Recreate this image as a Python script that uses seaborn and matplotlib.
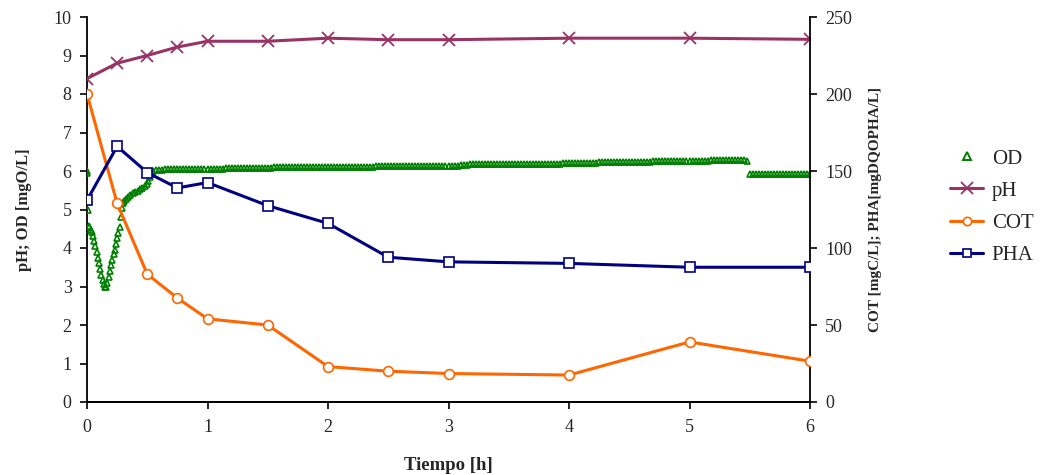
import numpy as np
import pandas as pd
import matplotlib
matplotlib.use("Agg")
import matplotlib.pyplot as plt
import seaborn as sns
from matplotlib.lines import Line2D

# ---------------- data ----------------
time_main = [0, 0.25, 0.5, 0.75, 1, 1.5, 2, 2.5, 3, 4, 5, 6]
ph = [8.40, 8.80, 9.00, 9.22, 9.37, 9.37, 9.45, 9.41, 9.41, 9.45, 9.45, 9.42]
cot = [200, 129, 83, 67.5, 54, 50, 23, 20, 18.5, 17.5, 39, 26.5]
pha = [131, 166, 149, 139, 142.5, 127.5, 116, 94, 91, 90, 87.5, 87.5]

# OD: early dense readings (time, value)
od_early_t = [0.000, 0.003, 0.010, 0.015, 0.020, 0.030, 0.040, 0.050, 0.060, 0.070,
              0.080, 0.090, 0.100, 0.110, 0.120, 0.130, 0.140, 0.150, 0.160, 0.170,
              0.180, 0.190, 0.200, 0.210, 0.220, 0.230, 0.240, 0.250, 0.260, 0.270,
              0.280, 0.290, 0.300, 0.310, 0.320, 0.340, 0.360, 0.380, 0.400, 0.420,
              0.440, 0.460, 0.480, 0.500, 0.510, 0.520, 0.530, 0.540, 0.550]
od_early = [6.00, 5.95, 5.00, 4.57, 4.55, 4.48, 4.42, 4.30, 4.18, 4.05,
            3.90, 3.75, 3.60, 3.45, 3.30, 3.17, 3.07, 3.00, 3.00, 3.10,
            3.25, 3.40, 3.55, 3.70, 3.85, 3.95, 4.10, 4.25, 4.40, 4.55,
            4.80, 5.05, 5.18, 5.23, 5.28, 5.33, 5.38, 5.42, 5.45, 5.49,
            5.53, 5.57, 5.62, 5.67, 5.74, 5.84, 5.92, 5.98, 6.01]

# OD: logger readings every 0.025 h from 0.575 h
od_late_start = 0.575
od_late_step = 0.025
od_late = [
    # 0.575 - 1.175
    6.03, 6.03, 6.03, 6.04, 6.04, 6.04, 6.04, 6.04, 6.05, 6.05,
    6.05, 6.05, 6.05, 6.05, 6.05, 6.06, 6.06, 6.06, 6.06, 6.06,
    6.06, 6.06, 6.06, 6.07, 6.07,
    # 1.2 - 1.275
    6.07, 6.08, 6.08, 6.09,
    # 1.3 - 2.375
    6.09, 6.09, 6.09, 6.09, 6.09, 6.09, 6.09, 6.09, 6.09, 6.09,
    6.10, 6.10, 6.10, 6.10, 6.10, 6.10, 6.10, 6.10, 6.10, 6.10,
    6.10, 6.10, 6.10, 6.10, 6.10, 6.10, 6.10, 6.10, 6.10, 6.10,
    6.11, 6.11, 6.11, 6.11, 6.11, 6.11, 6.11, 6.11, 6.11, 6.11,
    6.11, 6.11, 6.11, 6.11,
    # 2.4 - 3.075
    6.12, 6.12, 6.12, 6.12, 6.12, 6.12, 6.12, 6.13, 6.13, 6.13,
    6.13, 6.13, 6.13, 6.13, 6.13, 6.13, 6.13, 6.13, 6.14, 6.14,
    6.14, 6.14, 6.14, 6.14, 6.14, 6.14, 6.14, 6.14,
    # 3.1 - 3.175
    6.15, 6.16, 6.16, 6.17,
    # 3.2 - 3.875
    6.17, 6.17, 6.17, 6.17, 6.17, 6.17, 6.17, 6.17, 6.17, 6.17,
    6.17, 6.17, 6.18, 6.18, 6.18, 6.18, 6.18, 6.18, 6.18, 6.18,
    6.18, 6.18, 6.18, 6.18, 6.18, 6.18, 6.18, 6.18,
    # 3.9 - 4.025
    6.19, 6.19, 6.20, 6.20, 6.21, 6.21,
    # 4.05 - 4.675
    6.22, 6.22, 6.22, 6.22, 6.22, 6.22, 6.22, 6.22, 6.23, 6.23,
    6.23, 6.23, 6.23, 6.23, 6.23, 6.23, 6.23, 6.23, 6.24, 6.24,
    6.24, 6.24, 6.24, 6.24, 6.24, 6.24,
    # 4.7 - 4.825
    6.25, 6.25, 6.26, 6.26, 6.27, 6.27,
    # 4.85 - 5.475
    6.27, 6.27, 6.27, 6.27, 6.27, 6.27, 6.27, 6.27, 6.27, 6.27,
    6.27, 6.27, 6.27, 6.28, 6.28, 6.28, 6.28, 6.28, 6.28, 6.28,
    6.28, 6.28, 6.28, 6.28, 6.28, 6.26,
    # 5.5 - 6.0
    5.91, 5.91, 5.91, 5.91, 5.91, 5.91, 5.91, 5.91, 5.91, 5.91,
    5.91, 5.91, 5.91, 5.91, 5.91, 5.91, 5.91, 5.91, 5.91, 5.91,
    5.91,
]

x_ticks = [0, 1, 2, 3, 4, 5, 6]
left_ticks = list(range(0, 11))
right_ticks = [0, 50, 100, 150, 200, 250]

# ---------------- build ----------------
od_late_t = od_late_start + od_late_step * np.arange(len(od_late))
od_t = np.concatenate([od_early_t, od_late_t])
od_v = np.concatenate([od_early, od_late])
df_od = pd.DataFrame({"t": od_t, "v": od_v})
df_main = pd.DataFrame({"t": time_main, "ph": ph, "cot": cot, "pha": pha})

sns.set_style("ticks")
plt.rcParams["font.family"] = ["Liberation Serif", "DejaVu Serif"]

c_od = "#008000"
c_ph = "#993366"
c_cot = "#FF6600"
c_pha = "#000080"
txt = "#262626"

fig = plt.figure(figsize=(10.43, 4.75), dpi=100)
ax = fig.add_axes([87 / 1043, 1 - 402 / 475, (810 - 87) / 1043, (402 - 17) / 475])
ax2 = ax.twinx()

sns.lineplot(data=df_od, x="t", y="v", ax=ax, estimator=None, sort=False,
             linestyle="none", marker="^", markersize=5,
             markerfacecolor="none", markeredgecolor=c_od, markeredgewidth=1.2,
             color=c_od, zorder=3)
sns.lineplot(data=df_main, x="t", y="ph", ax=ax, estimator=None, sort=False,
             color=c_ph, linewidth=2.2, marker="x", markersize=8,
             markeredgewidth=1.3, markeredgecolor=c_ph, zorder=4)

sns.lineplot(data=df_main, x="t", y="cot", ax=ax2, estimator=None, sort=False,
             color=c_cot, linewidth=2.2, marker="o", markersize=7,
             markerfacecolor="white", markeredgecolor=c_cot, markeredgewidth=1.2,
             zorder=4)
sns.lineplot(data=df_main, x="t", y="pha", ax=ax2, estimator=None, sort=False,
             color=c_pha, linewidth=2.2, marker="s", markersize=7,
             markerfacecolor="white", markeredgecolor=c_pha, markeredgewidth=1.2,
             zorder=4)

ax.set_xlim(0, 6)
ax.set_ylim(0, 10)
ax2.set_ylim(0, 250)
ax.set_xticks(x_ticks)
ax.set_yticks(left_ticks)
ax2.set_yticks(right_ticks)

for a in (ax, ax2):
    a.spines["top"].set_visible(False)
    for s in ("left", "right", "bottom"):
        a.spines[s].set_linewidth(1.3)
        a.spines[s].set_color("black")
    a.tick_params(axis="both", direction="out", length=5, width=1.2,
                  labelsize=13, colors="black", labelcolor=txt)
ax2.spines["left"].set_visible(False)
ax.spines["right"].set_visible(False)
ax.tick_params(axis="x", pad=7)
ax.tick_params(axis="y", pad=6)
ax2.tick_params(axis="y", pad=6)

ax.set_xlabel("Tiempo [h]", fontsize=13.5, fontweight="bold", color=txt, labelpad=15)
ax.set_ylabel("pH; OD [mgO/L]", fontsize=12, fontweight="bold", color=txt, labelpad=16)
ax2.set_ylabel("COT [mgC/L]; PHA[mgDQOPHA/L]", fontsize=11, fontweight="bold",
               color=txt, labelpad=12)

handles = [
    Line2D([], [], linestyle="none", marker="^", markersize=5.5,
           markerfacecolor="white", markeredgecolor=c_od, markeredgewidth=1.4),
    Line2D([], [], color=c_ph, linewidth=2.2, marker="x", markersize=8,
           markeredgewidth=1.3),
    Line2D([], [], color=c_cot, linewidth=2.2, marker="o", markersize=6,
           markerfacecolor="white", markeredgewidth=1.2),
    Line2D([], [], color=c_pha, linewidth=2.2, marker="s", markersize=6,
           markerfacecolor="white", markeredgewidth=1.2),
]
labels = ["OD", "pH", "COT", "PHA"]
ax.legend(handles, labels, loc="center left",
          bbox_to_anchor=(950 / 1043, 1 - 207 / 475),
          bbox_transform=fig.transFigure, frameon=False, fontsize=15,
          handlelength=1.6, handletextpad=0.4, labelspacing=0.6,
          borderpad=0, borderaxespad=0, labelcolor=txt)

fig.savefig("out.png", dpi=100)
